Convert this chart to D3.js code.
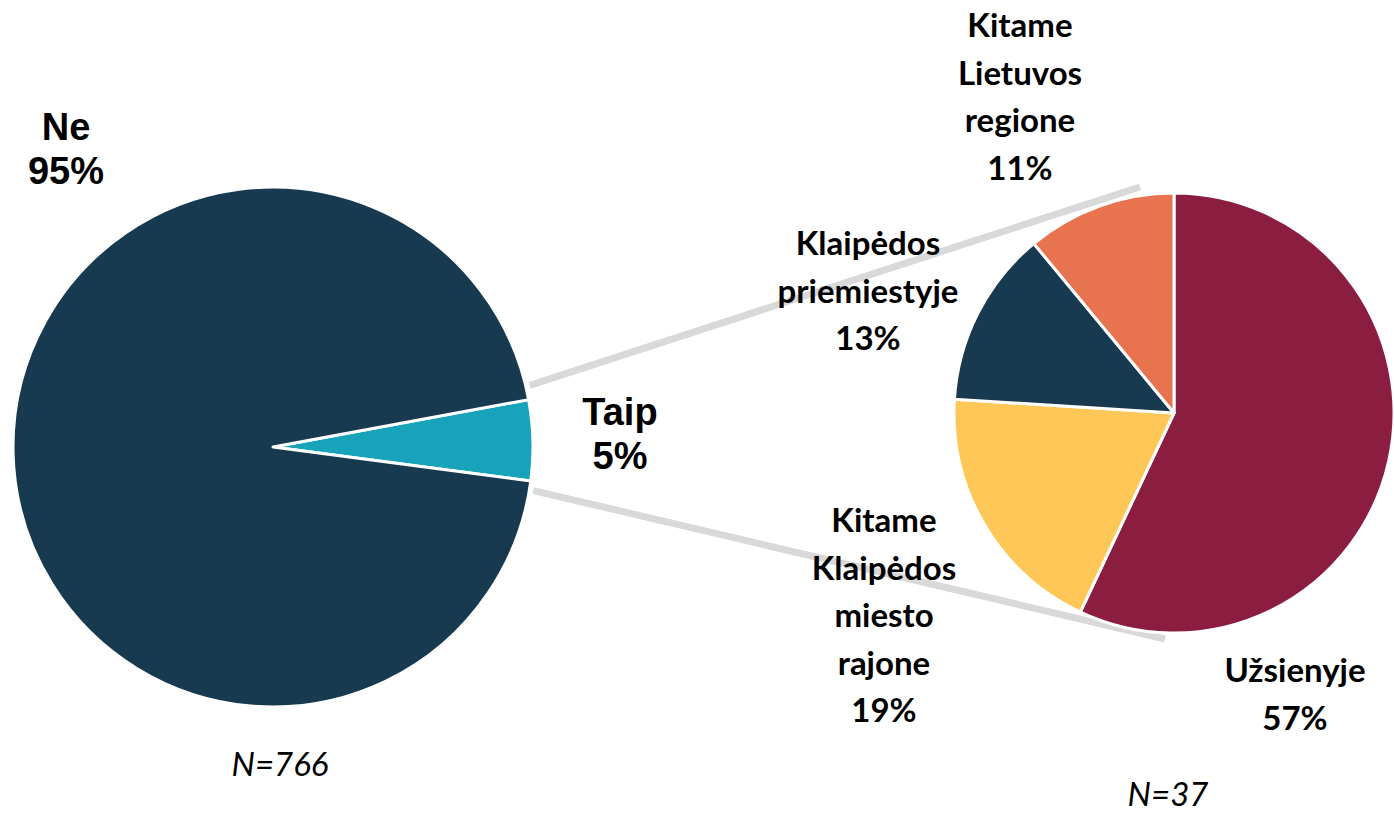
<!DOCTYPE html>
<html>
<head>
<meta charset="utf-8">
<script src="https://cdn.jsdelivr.net/npm/d3@7"></script>
<style>
  body { margin: 0; background: #fff; }
  .canvas { width: 1394px; height: 813px; }
</style>
</head>
<body>
<div class="canvas"></div>
<script>
// left pie: did they answer yes/no
const mainLabels = ["Taip", "Ne"];
const mainValues = [5, 95];
// right pie: where (only "Taip")
const subLabels = [
    ["Užsienyje"],
    ["Kitame", "Klaipėdos", "miesto", "rajone"],
    ["Klaipėdos", "priemiestyje"],
    ["Kitame", "Lietuvos", "regione"]
];
const subValues = [57, 19, 13, 11];
const mainN = "N=766";
const subN = "N=37";

const dims = { width: 1394, height: 813 };
const left = { x: 273, y: 447, r: 260 };
const right = { x: 1174, y: 413, r: 220 };

const mainColors = ["#17a3ba", "#173a50"];
const subColors = ["#8b1e40", "#fec758", "#173a50", "#e8734f"];

const svg = d3
    .select(".canvas")
    .append("svg")
    .attr("width", dims.width)
    .attr("height", dims.height);

const deg = Math.PI / 180;

const mainPie = d3.pie().sort(null).value((d) => d).startAngle(79.5 * deg).endAngle(439.5 * deg);
const subPie = d3.pie().sort(null).value((d) => d);

const mainArcs = mainPie(mainValues);
const subArcs = subPie(subValues);

const mainArc = d3.arc().innerRadius(0).outerRadius(left.r);
const subArc = d3.arc().innerRadius(0).outerRadius(right.r);

// connector lines (behind the pies)
const taip = mainArcs[0];
const pt = (c, a, r) => [c.x + r * Math.sin(a), c.y - r * Math.cos(a)];
const connectors = [
    [pt(left, taip.startAngle - 3 * deg, left.r + 4), [right.x - 34, right.y - right.r - 6]],
    [pt(left, taip.endAngle + 2 * deg, left.r + 4), [right.x - 9, right.y + right.r + 6]]
];
svg.append("g")
    .selectAll("line")
    .data(connectors)
    .enter()
    .append("line")
    .attr("x1", (d) => d[0][0])
    .attr("y1", (d) => d[0][1])
    .attr("x2", (d) => d[1][0])
    .attr("y2", (d) => d[1][1])
    .attr("stroke", "#d9d9d9")
    .attr("stroke-width", 7);

const mainG = svg.append("g").attr("transform", `translate(${left.x},${left.y})`);
mainG.selectAll("path")
    .data(mainArcs)
    .enter()
    .append("path")
    .attr("d", mainArc)
    .attr("fill", (d, i) => mainColors[i])
    .attr("stroke", "#fff")
    .attr("stroke-width", 3)
    .attr("stroke-linejoin", "round");

const subG = svg.append("g").attr("transform", `translate(${right.x},${right.y})`);
subG.selectAll("path")
    .data(subArcs)
    .enter()
    .append("path")
    .attr("d", subArc)
    .attr("fill", (d, i) => subColors[i])
    .attr("stroke", "#fff")
    .attr("stroke-width", 3)
    .attr("stroke-linejoin", "round");

// labels
function label(lines, x, y, opts) {
    const t = svg.append("text")
        .attr("text-anchor", "middle")
        .attr("font-family", opts.font)
        .attr("font-weight", "bold")
        .attr("font-size", opts.size)
        .attr("fill", "#000");
    lines.forEach((s, i) => {
        t.append("tspan").attr("x", x).attr("y", y + i * opts.lh).text(s);
    });
}

const arialOpts = { font: "'Liberation Sans', Arial, sans-serif", size: 38, lh: 44 };
const calOpts = { font: "Lato, 'Open Sans', sans-serif", size: 33, lh: 47.5 };

label([mainLabels[1], mainValues[1] + "%"], 66, 140, arialOpts);
label([mainLabels[0], mainValues[0] + "%"], 620, 425, arialOpts);

const subPos = [[1295, 682], [884, 532], [868, 255], [1020, 37]];
subLabels.forEach((lines, i) => {
    label(lines.concat([subValues[i] + "%"]), subPos[i][0], subPos[i][1], calOpts);
});

svg.append("text")
    .attr("x", 280).attr("y", 776)
    .attr("text-anchor", "middle")
    .attr("font-family", "Lato, 'Open Sans', sans-serif")
    .attr("font-style", "italic")
    .attr("font-size", 33)
    .text(mainN);

svg.append("text")
    .attr("x", 1168).attr("y", 806)
    .attr("text-anchor", "middle")
    .attr("font-family", "Lato, 'Open Sans', sans-serif")
    .attr("font-style", "italic")
    .attr("font-size", 33)
    .text(subN);
</script>
</body>
</html>
